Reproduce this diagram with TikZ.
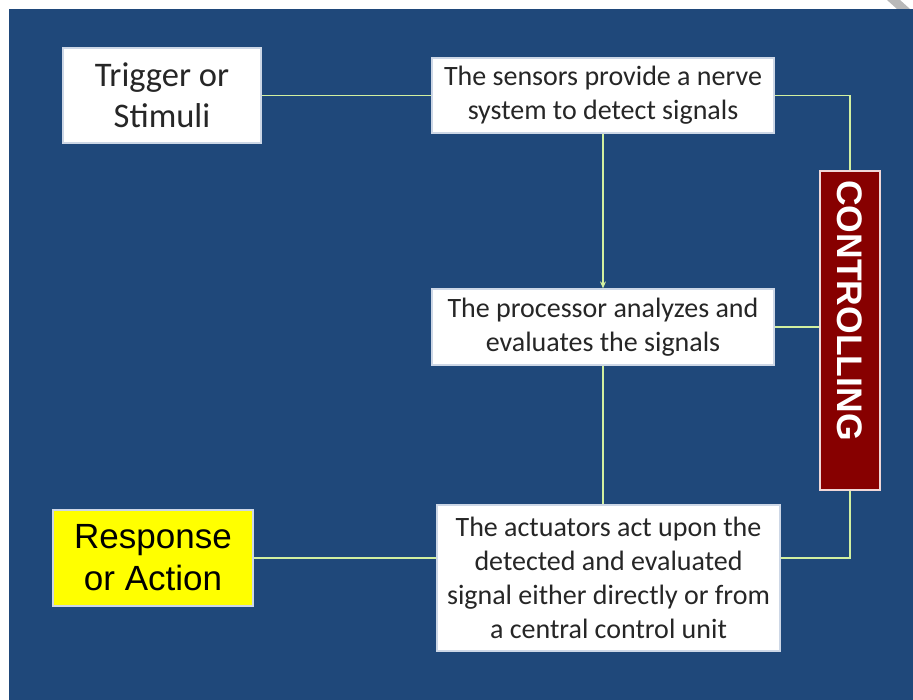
\documentclass[tikz,border=0pt]{standalone}
\usepackage{fontspec}
\setmainfont{Carlito}
\newfontfamily\arialfont{Liberation Sans}
\usetikzlibrary{arrows.meta}
\definecolor{panelblue}{RGB}{31,72,122}
\definecolor{linkgreen}{RGB}{210,240,160}
\definecolor{boxedge}{RGB}{205,215,230}
\definecolor{ctrlred}{RGB}{135,0,0}
\definecolor{ctrledge}{RGB}{240,215,215}
\definecolor{respyellow}{RGB}{255,255,0}
\tikzset{
  infobox/.style={draw=boxedge, line width=1.2pt, fill=white, inner sep=0pt,
    align=center, text=black!85, font=\fontsize{28}{34}\selectfont},
  termbox/.style={infobox, font=\fontsize{34.5}{41}\selectfont},
  respbox/.style={draw=boxedge, line width=1.2pt, fill=respyellow, inner sep=0pt,
    align=center, text=black, font=\arialfont\fontsize{35}{42}\selectfont},
  ctrlbox/.style={draw=ctrledge, line width=1.2pt, fill=ctrlred, inner sep=0pt,
    text=white, font=\arialfont\bfseries\fontsize{35.5}{40}\selectfont},
  link/.style={draw=linkgreen, line width=1.4pt},
}
\begin{document}
\begin{tikzpicture}[x=1pt,y=-1pt]
\useasboundingbox (0,0) rectangle (913,700);
% page and panel
\fill[white] (0,0) rectangle (913,700);
\fill[panelblue] (9,9) rectangle (913,700);
\fill[gray!55] (887,0) -- (900,0) -- (910,9) -- (897,9) -- cycle;

% boxes
\node[termbox, minimum width=198pt, minimum height=95pt] (trig) at (162,95.5)
  {Trigger or\\Stimuli};
\node[infobox, minimum width=342pt, minimum height=75pt] (sens) at (603,95.5)
  {The sensors provide a nerve\\system to detect signals};
\node[infobox, minimum width=342pt, minimum height=76pt] (proc) at (603,327)
  {The processor analyzes and\\evaluates the signals};
\node[infobox, minimum width=343pt, minimum height=146pt] (act) at (608.5,578)
  {The actuators act upon the\\detected and evaluated\\signal either directly or from\\a central control unit};
\node[respbox, minimum width=200pt, minimum height=96pt] (resp) at (153,558)
  {Response\\or Action};
\node[ctrlbox, minimum width=60pt, minimum height=319pt] (ctrl) at (850,330.5) {};
\node[ctrlbox, draw=none, fill=none, rotate=-90] (ctrltext) at ([yshift=20pt]ctrl.center) {CONTROLLING};

% connectors
\draw[link] (trig.east) -- (trig.east -| sens.west);
\draw[link] (sens.east) -| (ctrl.north);
\draw[link, -{Stealth[length=7pt,width=6pt]}] (sens.south) -- (proc.north);
\draw[link] (proc.east) -- (proc.east -| ctrl.west);
\draw[link] (proc.south) -- (proc.south |- act.north);
\draw[link] (ctrl.south) |- (act.east |- resp.east);
\draw[link] (act.west |- resp.east) -- (resp.east);
\end{tikzpicture}
\end{document}
